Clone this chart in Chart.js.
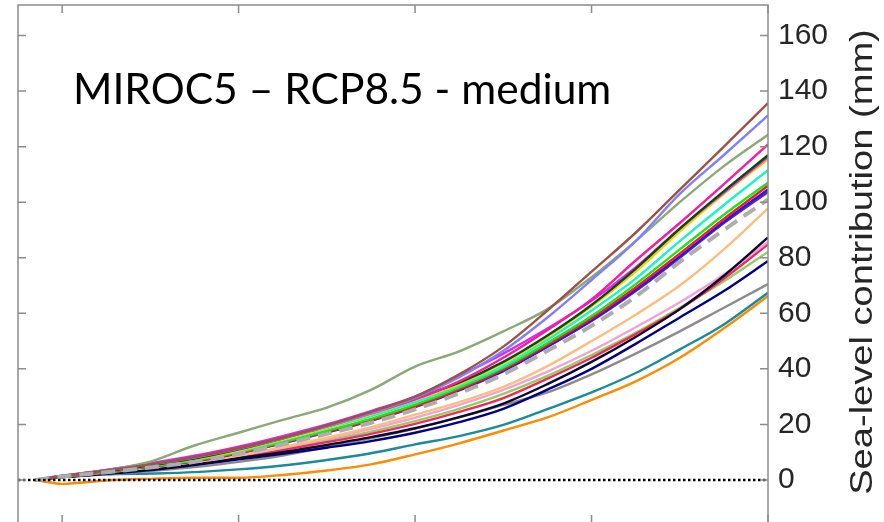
<!DOCTYPE html>
<html>
<head>
<meta charset="utf-8">
<script src="https://cdn.jsdelivr.net/npm/chart.js@4.4.1/dist/chart.umd.min.js"></script>
<style>
    html, body { margin: 0; padding: 0; background: #fff; overflow: hidden; }
    #wrap { width: 884px; height: 524px; }
</style>
</head>
<body>
<div id="wrap"><canvas id="chart" width="884" height="524"></canvas></div>
<script>
// ===== DADOS =====
const years = [2017, 2020, 2025, 2030, 2035, 2040, 2045, 2050, 2055, 2060, 2065, 2070, 2075, 2080, 2085, 2090, 2095, 2100];
const xTicks = [2020, 2040, 2060, 2080, 2100];
const yTicks = [0, 20, 40, 60, 80, 100, 120, 140, 160];

const brown      = [0, 1.4, 3.4, 5.6, 8.2, 11.4, 15.2, 19.6, 24.5, 30, 38, 48, 61, 75, 89, 104.5, 120, 135.7];
const lightBlue  = [0, 1.4, 3.4, 5.6, 8.1, 11.2, 15, 19.2, 24, 29.5, 37, 46.5, 58.5, 72, 86, 103, 117, 131.3];
const sage       = [0, 1.5, 3.5, 6.6, 12.4, 17, 21.6, 26, 32.4, 40.8, 46.3, 53.5, 61.5, 73, 86, 100, 113, 124.3];
const hotPink    = [0, 1.4, 3.5, 5.8, 8.4, 11.6, 15.3, 19.4, 24, 29, 35.5, 44, 54, 65, 79, 92.5, 106.5, 120.8];
const magenta    = [0, 1.5, 3.6, 6, 8.7, 12, 15.8, 20, 24.8, 30, 37.5, 45.5, 54.5, 64.5, 76.5, 90.5, 103.5, 116.3];
const darkGreen  = [0, 1.3, 3.2, 5.2, 7.7, 11, 15, 19.3, 24.2, 29.5, 35, 42.5, 52, 63, 76, 90.5, 104, 116.9];
const gold       = [0, 1.3, 3.2, 5.2, 7.5, 10.6, 14.5, 18.8, 23.5, 28.8, 34.5, 42, 51.5, 62.5, 75, 89.5, 103, 115.5];
const aqua       = [0, 1.3, 3.1, 5.1, 7.3, 10.4, 14.3, 18.6, 23, 28, 34, 41, 50.5, 61, 72.5, 86, 99, 111.5];
const green      = [0, 1.2, 3.0, 4.9, 7.0, 10, 13.6, 17.7, 22, 27.1, 33.2, 40.4, 49.3, 59, 70.5, 83, 95.5, 107];
const red        = [0, 1.2, 2.9, 4.8, 6.8, 9.7, 13.3, 17.3, 21.5, 26.5, 32.6, 39.8, 48.6, 58.2, 69.3, 81.5, 94, 105.9];
const blue       = [0, 1.2, 2.9, 4.8, 6.7, 9.6, 13.2, 17.1, 21.3, 26.2, 32.2, 39.2, 48, 57.5, 68.5, 80.5, 93, 104.6];
const purple     = [0, 1.2, 3.0, 4.9, 6.9, 9.8, 13.4, 17.4, 21.6, 26.6, 32.6, 39.4, 48, 57.2, 68, 80, 92.5, 103.7];
const ensMean    = [0, 1.2, 2.8, 4.5, 6.5, 9.3, 12.8, 16.6, 20.6, 25.4, 31.2, 38, 46.5, 55.5, 66, 78.5, 90, 101];
const peach      = [0, 1.1, 2.7, 4.5, 6.4, 8.8, 11.8, 15.2, 19, 23.5, 28, 33.5, 41, 50, 59.5, 70, 83, 97.8];
const black      = [0, 1.0, 2.3, 3.8, 5.6, 7.8, 10, 12.6, 15.4, 18.6, 22.6, 27.5, 34.5, 42.5, 51.5, 61.5, 73.5, 87.3];
const lightPink  = [0, 1.1, 2.7, 4.4, 6.4, 8.8, 11.6, 14.8, 18.4, 22.4, 27, 32.4, 39, 46.5, 55, 64, 74, 85.7];
const crimson    = [0, 1.1, 2.6, 4.2, 6.0, 8.2, 10.8, 13.6, 16.6, 20.2, 24.5, 29.5, 36.5, 44, 52.5, 61.5, 72.5, 84.9];
const lightGreen = [0, 1.1, 2.6, 4.2, 6.1, 8.4, 11.2, 14.2, 17.4, 21.2, 25.6, 31, 37.5, 45, 53, 62, 71.5, 82.1];
const navy       = [0, 1.0, 2.2, 3.6, 5.4, 7.4, 9.4, 11.6, 14, 17, 20.8, 25.6, 32.5, 40, 49, 58.5, 68, 78.8];
const gray       = [0, 1.0, 2.0, 3.2, 4.6, 6.5, 8.8, 11.8, 15, 18.5, 22.5, 27, 31.5, 38, 45.5, 53.5, 62, 70.5];
const teal       = [0, 1.0, 2.0, 2.3, 2.8, 3.8, 5.2, 7.2, 9.6, 12.8, 15.8, 19.8, 25.5, 31.5, 38.5, 47, 56, 67.4];
const orange     = [0, -1.4, -0.2, 0.4, 0.8, 0.8, 1.8, 3.4, 5.6, 9.2, 13.2, 17.8, 22.5, 28.8, 35.5, 44, 54.6, 66.2];

// Cores das linhas (as primeiras ficam por baixo)
const series = [
    [orange, '#ff8c00'],
    [teal, '#1a8a9c'],
    [gray, '#8c8c8c'],
    [navy, '#000080'],
    [lightGreen, '#92cf5e'],
    [crimson, '#f02a5c'],
    [lightPink, '#f4a2d6'],
    [black, '#0a0a2e'],
    [peach, '#ffbd82'],
    [purple, '#722878'],
    [blue, '#1a1aff'],
    [red, '#ff1a1a'],
    [green, '#1ae61a'],
    [aqua, '#1af5c2'],
    [gold, '#ffcc00'],
    [magenta, '#d62bf0'],
    [darkGreen, '#0a4a0a'],
    [hotPink, '#ff1aa0'],
    [sage, '#8ca878'],
    [lightBlue, '#8080ff'],
    [brown, '#9c5246']
];

const toPoints = vals => vals.map((v, i) => ({ x: years[i], y: v }));

const datasets = [
    {
        data: [{ x: 2015, y: 0 }, { x: 2100, y: 0 }],
        borderColor: '#000',
        borderWidth: 2.5,
        borderDash: [2.5, 2.5],
        order: 0
    },
    {
        data: toPoints(ensMean),
        borderColor: '#adadad',
        borderWidth: 4,
        borderDash: [14, 8],
        order: 1
    }
];
series.forEach((s, i) => {
    datasets.push({
        data: toPoints(s[0]),
        borderColor: s[1],
        borderWidth: 2.4,
        order: 100 - i
    });
});

// ===== MOLDURA, TÍTULOS =====
const frame = {
    id: 'frame',
    afterDraw(chart) {
        const { ctx, chartArea: a, scales: { x, y } } = chart;
        ctx.save();
        ctx.strokeStyle = '#8c8c8c';
        ctx.lineWidth = 1.5;
        ctx.strokeRect(a.left, a.top, a.right - a.left, a.bottom - a.top);
        ctx.beginPath();
        xTicks.forEach(v => {
            const px = x.getPixelForValue(v);
            ctx.moveTo(px, a.top); ctx.lineTo(px, a.top + 8);
            ctx.moveTo(px, a.bottom); ctx.lineTo(px, a.bottom - 8);
        });
        yTicks.forEach(v => {
            const py = y.getPixelForValue(v);
            ctx.moveTo(a.left, py); ctx.lineTo(a.left + 8, py);
            ctx.moveTo(a.right, py); ctx.lineTo(a.right - 8, py);
        });
        ctx.stroke();

        ctx.fillStyle = '#000';
        ctx.font = '42.5px Lato';
        ctx.textBaseline = 'alphabetic';
        ctx.fillText('MIROC5 – RCP8.5 - medium', 73, 104);

        // título do eixo y, esticado para o comprimento do original
        ctx.translate(872, 262);
        ctx.rotate(-Math.PI / 2);
        ctx.scale(1.19, 1);
        ctx.fillStyle = '#262626';
        ctx.font = '32px "Liberation Sans"';
        ctx.textAlign = 'center';
        ctx.fillText('Sea-level contribution (mm)', 0, 0);
        ctx.restore();
    }
};

new Chart(document.getElementById('chart'), {
    type: 'line',
    data: { datasets: datasets },
    options: {
        responsive: false,
        animation: false,
        devicePixelRatio: 1,
        layout: { padding: { left: 18, top: 5, right: 0, bottom: 1 } },
        elements: { point: { radius: 0 }, line: { cubicInterpolationMode: 'monotone' } },
        plugins: { legend: { display: false }, tooltip: { enabled: false } },
        scales: {
            x: { type: 'linear', min: 2015, max: 2100, display: false },
            y: {
                type: 'linear',
                position: 'right',
                min: -15.5,
                max: 171,
                grid: { display: false, drawTicks: false },
                border: { display: false },
                ticks: {
                    font: { family: '"Liberation Sans", Arial, sans-serif', size: 30 },
                    color: '#262626',
                    padding: 10
                },
                afterBuildTicks: s => { s.ticks = yTicks.map(v => ({ value: v })); },
                afterFit: s => {
                    s.width = 116;
                    s.paddingTop = 0;
                    s.paddingBottom = 0;
                }
            }
        }
    },
    plugins: [frame]
});
</script>
</body>
</html>
